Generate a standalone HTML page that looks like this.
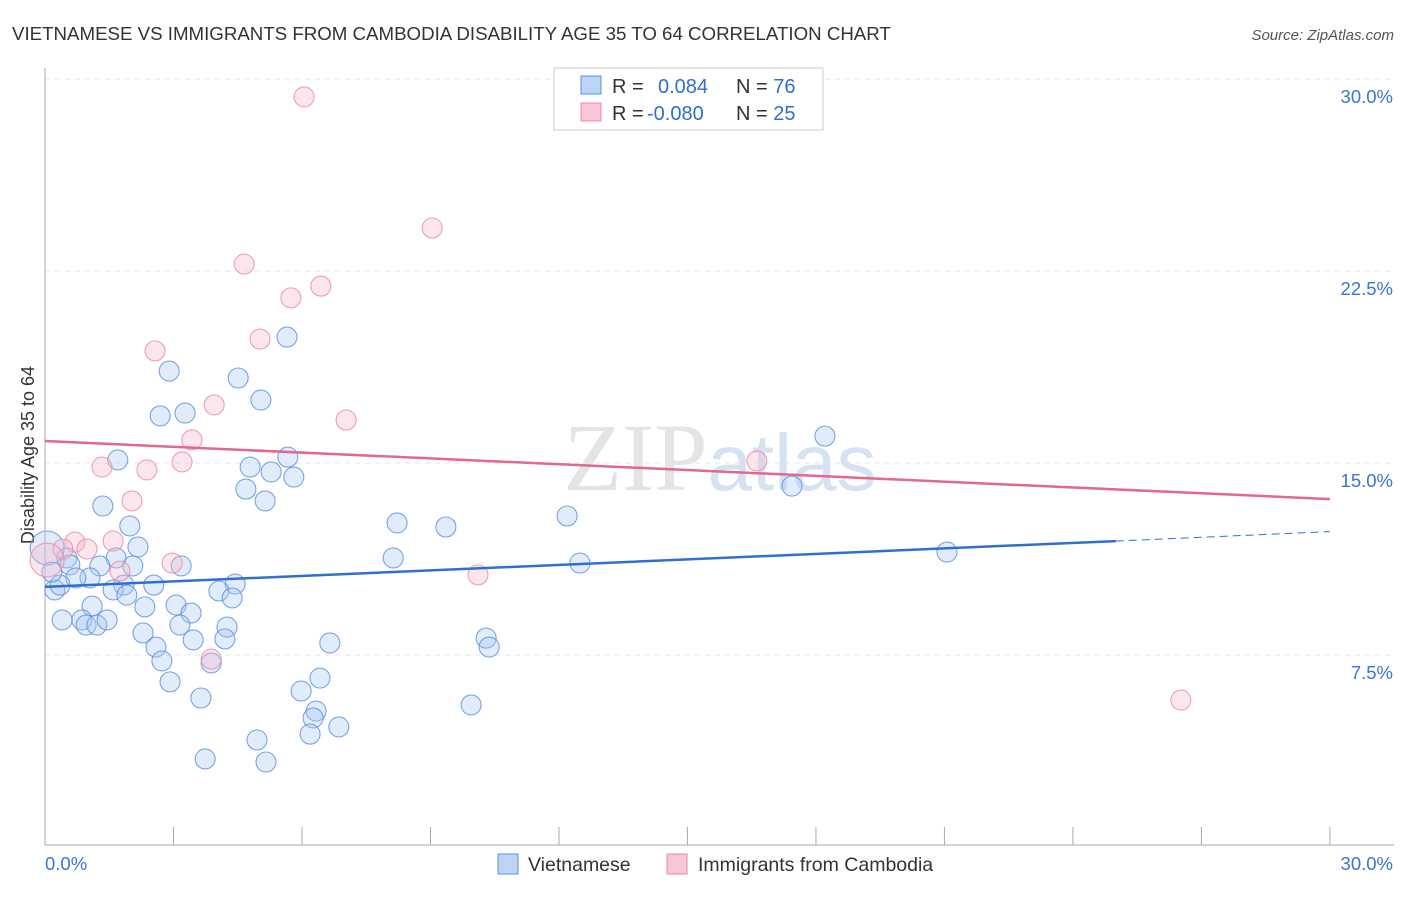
<!DOCTYPE html>
<html><head><meta charset="utf-8"><style>
body{margin:0;background:#fff;font-family:"Liberation Sans",sans-serif}
</style></head><body>
<svg width="1406" height="892" xmlns="http://www.w3.org/2000/svg" id="svg" font-family="Liberation Sans, sans-serif">
<text x="12" y="40" font-size="18.7" fill="#333">VIETNAMESE VS IMMIGRANTS FROM CAMBODIA DISABILITY AGE 35 TO 64 CORRELATION CHART</text>
<text x="1394" y="40" font-size="15" fill="#555" text-anchor="end" font-style="italic">Source: ZipAtlas.com</text>
<text x="720" y="490" font-size="96" fill="#e4e4e4" text-anchor="middle" font-family="Liberation Serif, serif">ZIP<tspan fill="#d6e2f2" font-family="Liberation Sans, sans-serif" font-size="80">atlas</tspan></text>
<text transform="translate(34,455) rotate(-90)" font-size="18" fill="#333" text-anchor="middle">Disability Age 35 to 64</text>
<g id="grid"></g><g id="pts"></g><g id="lines"></g>
<g>
<rect x="554" y="68" width="269" height="62" fill="#fff" stroke="#ccc"/>
<rect x="581" y="76" width="20" height="18" fill="#bcd4f5" stroke="#5b8fdd"/>
<rect x="581" y="103" width="20" height="18" fill="#f8c6d5" stroke="#e88aa8"/>
<text x="612" y="93" font-size="20" fill="#333">R = <tspan fill="#2f6fd0" x="658">0.084</tspan><tspan x="736">N = </tspan><tspan fill="#2f6fd0">76</tspan></text>
<text x="612" y="120" font-size="20" fill="#333">R = <tspan fill="#2f6fd0" x="647">-0.080</tspan><tspan x="736">N = </tspan><tspan fill="#2f6fd0">25</tspan></text>
</g>
<g>
<rect x="498" y="854" width="20" height="20" fill="#bcd4f5" stroke="#5b8fdd"/>
<text x="528" y="871" font-size="19.5" fill="#333">Vietnamese</text>
<rect x="667" y="854" width="20" height="20" fill="#f8c6d5" stroke="#e88aa8"/>
<text x="698" y="871" font-size="19.5" fill="#333">Immigrants from Cambodia</text>
</g>
</svg>
<script>
const yTicks=[7.5,15,22.5,30];
const yTickLabels=["7.5%","15.0%","22.5%","30.0%"];
const xTicks=[0,3,6,9,12,15,18,21,24,27,30];
const blueX=[5.65,2.90,4.51,5.04,2.69,3.27,18.21,1.70,5.67,4.79,5.28,5.81,4.69,17.44,5.14,1.35,12.19,8.22,9.36,1.98,2.17,1.66,21.06,8.13,12.49,0.51,0.58,1.28,2.05,3.18,1.05,0.72,0.23,0.35,2.54,1.84,4.44,4.06,1.59,1.91,4.37,1.10,2.33,3.06,3.41,0.40,0.86,0.96,1.21,1.45,3.15,4.25,2.29,4.20,3.46,10.30,10.37,2.59,6.65,2.73,3.88,6.42,2.92,5.98,3.64,9.95,6.33,6.26,6.86,6.19,4.95,3.74,5.16,0.05,0.16];
const blueY=[19.92,18.59,18.32,17.46,16.84,16.95,16.05,15.12,15.23,14.84,14.65,14.45,13.98,14.10,13.52,13.32,12.93,12.66,12.50,12.54,11.72,11.29,11.52,11.29,11.09,11.29,11.02,10.98,10.98,10.98,10.51,10.51,10.04,10.23,10.23,10.23,10.27,10.00,10.04,9.84,9.73,9.41,9.38,9.45,9.14,8.87,8.87,8.67,8.67,8.87,8.67,8.59,8.36,8.13,8.09,8.16,7.81,7.81,7.97,7.27,7.19,6.60,6.45,6.09,5.82,5.55,5.31,5.04,4.69,4.41,4.18,3.44,3.32,11.68,10.74];
const pinkX=[6.05,9.04,4.65,6.44,5.74,5.02,2.57,3.95,7.03,3.43,3.20,1.33,2.38,16.62,2.03,1.59,0.70,0.98,0.42,1.75,2.97,10.11,3.88,26.52,0.05];
const pinkY=[29.30,24.18,22.77,21.91,21.45,19.84,19.38,17.27,16.68,15.90,15.04,14.84,14.73,15.08,13.52,11.95,11.91,11.64,11.64,10.78,11.09,10.63,7.34,5.74,11.21];
const blueTrend=[10.16,11.95,12.32]; // at x=0,25,30
const pinkTrend=[15.86,13.59]; // at x=0,30
const NS="http://www.w3.org/2000/svg";
const X=v=>45+v*42.83, Y=v=>847-v*25.6;
function mk(t,a,p){const e=document.createElementNS(NS,t);for(const k in a)e.setAttribute(k,a[k]);p.appendChild(e);return e;}
const g=document.getElementById('grid');
yTicks.forEach((t,i)=>{
 const l=mk('line',{x1:45,x2:1394,y1:Y(t),y2:Y(t),stroke:'#e6e6e6','stroke-dasharray':'5,5'},g);
 
 
 const tx=mk('text',{x:1393,y:Y(t)+24,'font-size':18.5,fill:'#3a74d4','text-anchor':'end'},g);
 tx.textContent=yTickLabels[i];
 
 
});
const ax=mk('line',{x1:45,x2:45,y1:68,y2:845,stroke:'#aaa'},g);


const bx=mk('line',{x1:45,x2:1394,y1:845,y2:845,stroke:'#aaa'},g);


xTicks.forEach(t=>{
 const l=mk('line',{x1:X(t),x2:X(t),y1:827,y2:845,stroke:'#aaa'},g);
 
 
});
const xl0=mk('text',{x:45,y:870,'font-size':18.5,fill:'#3a74d4'},g);xl0.textContent='0.0%';


const xl1=mk('text',{x:1393,y:870,'font-size':18.5,fill:'#3a74d4','text-anchor':'end'},g);xl1.textContent='30.0%';


const p=document.getElementById('pts');
function dots(xs,ys,fill,stroke,name){xs.forEach((x,i)=>{
 const big=x<0.1;
 const c=mk('circle',{cx:X(x),cy:Y(ys[i]),r:big?17:10,fill:fill,'fill-opacity':0.35,stroke:stroke,'stroke-opacity':0.8,'stroke-width':1.1},p);
 
 
});}
dots(blueX,blueY,'#a9c8f0','#5b8fdd','vietnamese-point');
dots(pinkX,pinkY,'#f6b8cb','#e88aa8','cambodia-point');
const L=document.getElementById('lines');
const b1=mk('line',{x1:X(0),y1:Y(blueTrend[0]),x2:X(25),y2:Y(blueTrend[1]),stroke:'#2f6fd0','stroke-width':2.5},L);


const b2=mk('line',{x1:X(25),y1:Y(blueTrend[1]),x2:X(30),y2:Y(blueTrend[2]),stroke:'#2f6fd0','stroke-width':1,'stroke-dasharray':'8,5'},L);


const p1=mk('line',{x1:X(0),y1:Y(pinkTrend[0]),x2:X(30),y2:Y(pinkTrend[1]),stroke:'#e36791','stroke-width':2.5},L);


</script>
</body></html>
